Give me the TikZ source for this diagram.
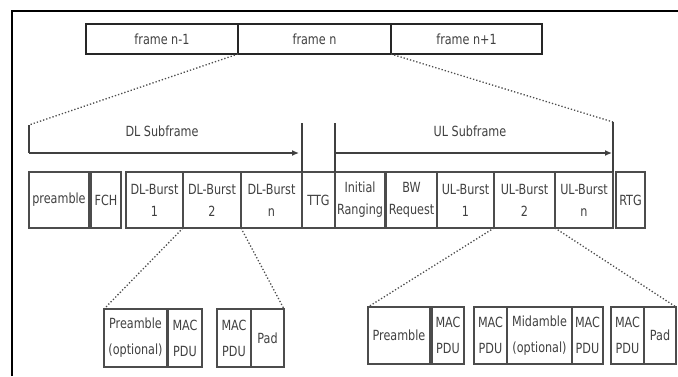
\documentclass[tikz,border=0pt]{standalone}
\usepackage{fontspec}
\setmainfont{DejaVu Sans}[FakeStretch=0.8]
\usetikzlibrary{arrows.meta}
\tikzset{
  box/.style={draw=black!70, line width=1.3pt, inner sep=0pt, outer sep=0pt, align=center, text=black!75},
  frm/.style={box, draw=black!85, minimum height=30pt, font=\fontsize{14}{16}\selectfont},
  mid/.style={box, minimum height=56pt, font=\fontsize{14}{22}\selectfont},
  low/.style={box, font=\fontsize{14}{26}\selectfont},
  dots/.style={dotted, line width=1.3pt, draw=black!70},
  sub/.style={line width=1.3pt, draw=black!75},
  lbl/.style={text=black!75, font=\fontsize{14}{16}\selectfont, inner sep=0pt}
}
\begin{document}
\begin{tikzpicture}[x=1pt,y=-1pt]
\useasboundingbox (0,0) rectangle (678,376);
% outer frame
\draw[line width=2.5pt, black] (12,376) -- (12,11) -- (678,11);
% frames
\node[frm, minimum width=152pt] (fn1) at (162,39) {frame n-1};
\node[frm, minimum width=153pt] (fn) at (314.5,39) {frame n};
\node[frm, minimum width=151pt] (fn2) at (466.5,39) {frame n+1};
% middle row
\node[mid, minimum width=60pt] (pre) at (59,200) {preamble};
\node[mid, minimum width=30pt] (fch) at (106,200) {FCH};
\node[mid, minimum width=57pt] (dl1) at (154.5,200) {DL-Burst\\1};
\node[mid, minimum width=58pt] (dl2) at (212,200) {DL-Burst\\2};
\node[mid, minimum width=61pt] (dln) at (271.5,200) {DL-Burst\\n};
\node[mid, minimum width=33pt] (ttg) at (318.5,200) {TTG};
\node[mid, minimum width=50pt] (ir) at (360,200) {Initial\\Ranging};
\node[mid, minimum width=51pt] (bw) at (411.5,200) {BW\\Request};
\node[mid, minimum width=57pt] (ul1) at (465.5,200) {UL-Burst\\1};
\node[mid, minimum width=61pt] (ul2) at (524.5,200) {UL-Burst\\2};
\node[mid, minimum width=58pt] (uln) at (584,200) {UL-Burst\\n};
\node[mid, minimum width=29pt] (rtg) at (630.5,200) {RTG};
% DL burst detail
\node[low, minimum width=63pt, minimum height=58pt] (dpre) at (135.5,338) {Preamble\\(optional)};
\node[low, minimum width=34pt, minimum height=58pt] (dmac1) at (185,338) {MAC\\PDU};
\node[low, minimum width=34pt, minimum height=58pt] (dmac2) at (234,338) {MAC\\PDU};
\node[low, minimum width=33pt, minimum height=58pt] (dpad) at (267.5,338) {Pad};
% UL burst detail
\node[low, minimum width=62pt, minimum height=57pt] (upre) at (399,335.5) {Preamble};
\node[low, minimum width=32pt, minimum height=57pt] (umac1) at (448,335.5) {MAC\\PDU};
\node[low, minimum width=33pt, minimum height=57pt] (umac2) at (490.5,335.5) {MAC\\PDU};
\node[low, minimum width=65pt, minimum height=57pt] (umid) at (539.5,335.5) {Midamble\\(optional)};
\node[low, minimum width=31pt, minimum height=57pt] (umac3) at (587.5,335.5) {MAC\\PDU};
\node[low, minimum width=33pt, minimum height=57pt] (umac4) at (627.5,335.5) {MAC\\PDU};
\node[low, minimum width=32pt, minimum height=57pt] (upad) at (660,335.5) {Pad};
% subframe markers
\coordinate (dlTop) at (29,125);
\coordinate (dlMid) at (29,153);
\coordinate (dlEnd) at (299,153);
\coordinate (ttgL) at (302,123);
\coordinate (ttgR) at (335,123);
\coordinate (ulMid) at (335,153);
\coordinate (ulEnd) at (612,153);
\coordinate (ulTop) at (613,122);
\draw[dots] (fn.south west) -- (dlTop);
\draw[dots] (fn.south east) -- (ulTop);
\draw[sub] (dlTop) -- (dlMid);
\draw[sub, -{Latex[length=7pt,width=6pt]}] (dlMid) -- (dlEnd);
\draw[sub] (ttgL) -- (ttg.north west);
\draw[sub] (ttgR) -- (ttg.north east);
\draw[sub, -{Latex[length=7pt,width=6pt]}] (ulMid) -- (ulEnd);
\draw[sub] (ulTop) -- (uln.north east);
\node[lbl] (dllbl) at (162,131) {DL Subframe};
\node[lbl] (ullbl) at (470,131) {UL Subframe};
% burst expansions
\draw[dots] (dl2.south west) -- (dpre.north west);
\draw[dots] (dl2.south east) -- (dpad.north east);
\draw[dots] (ul2.south west) -- (upre.north west);
\draw[dots] (ul2.south east) -- (upad.north east);
\end{tikzpicture}
\end{document}
